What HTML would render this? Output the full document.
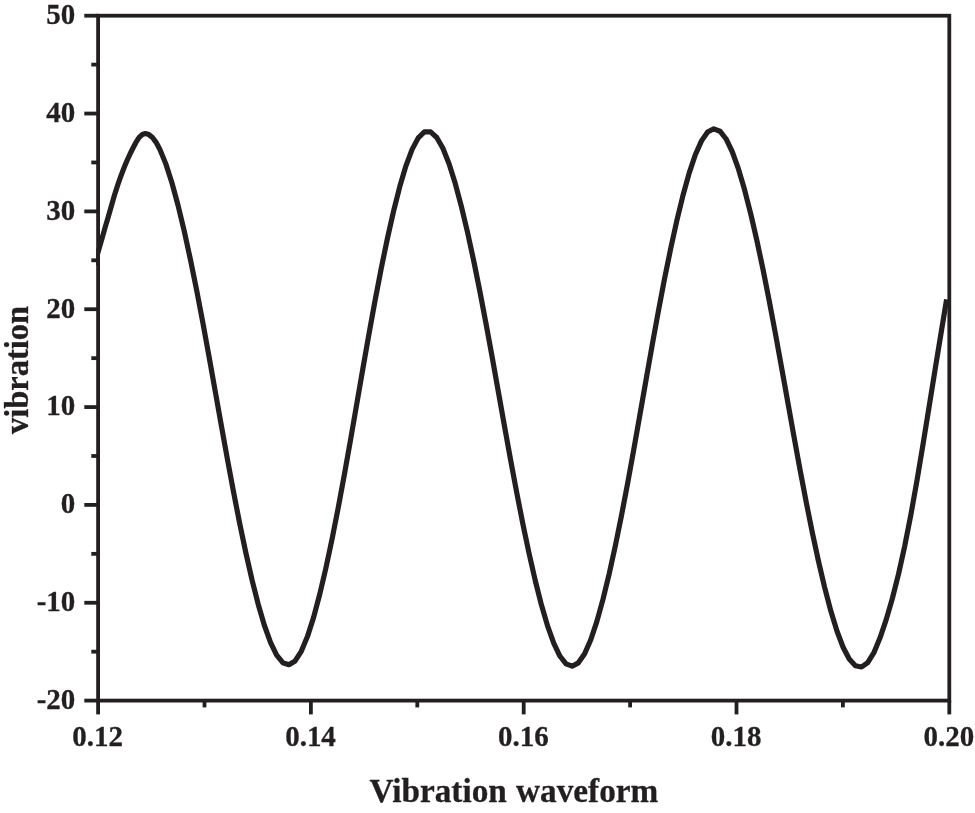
<!DOCTYPE html>
<html lang="en"><head><meta charset="utf-8"><title>Vibration waveform</title>
<style>html,body{margin:0;padding:0;background:#fff;}body{width:975px;height:813px;overflow:hidden;}svg{display:block;}</style>
</head><body>
<svg width="975" height="813" viewBox="0 0 975 813">
<rect width="975" height="813" fill="#fff"/>
<g fill="none" stroke="#231f20" stroke-width="3.8" stroke-linecap="butt">
<rect x="98.1" y="15.7" width="851.20" height="684.90"/>
<line x1="84.30" y1="15.70" x2="98.10" y2="15.70"/>
<line x1="91.30" y1="64.62" x2="98.10" y2="64.62"/>
<line x1="84.30" y1="113.54" x2="98.10" y2="113.54"/>
<line x1="91.30" y1="162.46" x2="98.10" y2="162.46"/>
<line x1="84.30" y1="211.39" x2="98.10" y2="211.39"/>
<line x1="91.30" y1="260.31" x2="98.10" y2="260.31"/>
<line x1="84.30" y1="309.23" x2="98.10" y2="309.23"/>
<line x1="91.30" y1="358.15" x2="98.10" y2="358.15"/>
<line x1="84.30" y1="407.07" x2="98.10" y2="407.07"/>
<line x1="91.30" y1="455.99" x2="98.10" y2="455.99"/>
<line x1="84.30" y1="504.91" x2="98.10" y2="504.91"/>
<line x1="91.30" y1="553.84" x2="98.10" y2="553.84"/>
<line x1="84.30" y1="602.76" x2="98.10" y2="602.76"/>
<line x1="91.30" y1="651.68" x2="98.10" y2="651.68"/>
<line x1="84.30" y1="700.60" x2="98.10" y2="700.60"/>
<line x1="98.10" y1="700.60" x2="98.10" y2="714.40"/>
<line x1="204.50" y1="700.60" x2="204.50" y2="707.40"/>
<line x1="310.90" y1="700.60" x2="310.90" y2="714.40"/>
<line x1="417.30" y1="700.60" x2="417.30" y2="707.40"/>
<line x1="523.70" y1="700.60" x2="523.70" y2="714.40"/>
<line x1="630.10" y1="700.60" x2="630.10" y2="707.40"/>
<line x1="736.50" y1="700.60" x2="736.50" y2="714.40"/>
<line x1="842.90" y1="700.60" x2="842.90" y2="707.40"/>
<line x1="949.30" y1="700.60" x2="949.30" y2="714.40"/>
</g>
<clipPath id="plotclip"><rect x="96.20" y="13.80" width="855.00" height="688.70"/></clipPath>
<path clip-path="url(#plotclip)" d="M94.10 265.20 L98.10 252.00 L102.20 237.68 L105.28 226.88 L108.36 216.49 L111.44 205.80 L114.52 195.07 L117.59 185.43 L120.67 176.67 L123.75 168.50 L126.83 160.99 L129.91 154.24 L132.99 148.02 L136.06 142.20 L139.14 137.44 L142.22 134.52 L145.30 133.60 L148.89 134.62 L152.49 137.55 L156.08 142.34 L159.67 148.88 L165.83 163.87 L171.98 183.04 L178.14 205.75 L184.30 231.44 L190.45 259.67 L196.61 290.09 L202.77 322.33 L208.93 355.94 L215.08 390.38 L221.24 424.99 L227.40 459.10 L233.55 492.10 L239.71 523.50 L245.87 552.88 L252.03 579.92 L258.18 604.20 L264.34 625.25 L270.50 642.45 L276.65 655.14 L282.81 662.71 L288.97 664.74 L295.12 660.92 L301.28 651.37 L307.44 636.61 L313.60 617.34 L319.75 594.27 L325.91 568.01 L332.07 539.05 L338.22 507.76 L344.38 474.55 L350.54 439.90 L356.69 404.41 L362.85 368.79 L369.01 333.76 L375.16 299.97 L381.32 267.95 L387.48 238.10 L393.64 210.82 L399.79 186.55 L405.95 165.83 L412.11 149.37 L418.26 137.87 L424.42 131.95 L430.58 131.90 L436.74 137.46 L442.89 148.26 L449.05 163.76 L455.21 183.33 L461.36 206.33 L467.52 232.23 L473.68 260.61 L479.83 291.12 L485.99 323.41 L492.15 357.03 L498.30 391.43 L504.46 425.96 L510.62 459.98 L516.78 492.89 L522.93 524.19 L529.09 553.51 L535.25 580.50 L541.40 604.78 L547.56 625.86 L553.72 643.16 L559.88 656.01 L566.03 663.83 L572.19 666.18 L578.35 662.85 L584.50 653.96 L590.66 639.99 L596.82 621.58 L602.97 599.41 L609.13 574.07 L615.29 546.04 L621.45 515.71 L627.60 483.42 L633.76 449.61 L639.92 414.81 L646.07 379.68 L652.23 344.90 L658.39 311.10 L664.54 278.84 L670.70 248.53 L676.86 220.54 L683.01 195.25 L689.17 173.13 L695.33 154.78 L701.49 140.87 L707.64 132.06 L713.80 128.81 L719.96 131.21 L726.11 138.99 L732.27 151.75 L738.43 168.89 L744.59 189.78 L750.74 213.84 L756.90 240.59 L763.06 269.66 L769.21 300.71 L775.37 333.37 L781.53 367.17 L787.68 401.55 L793.84 435.85 L800.00 469.47 L806.15 501.83 L812.31 532.50 L818.47 561.12 L824.63 587.35 L830.78 610.80 L836.94 630.97 L843.10 647.26 L849.25 659.03 L855.41 665.73 L861.57 666.99 L867.73 662.57 L873.88 652.68 L880.04 637.80 L886.20 619.64 L892.35 598.51 L898.51 574.14 L904.67 546.36 L910.82 515.08 L916.98 480.47 L923.14 443.57 L929.30 405.48 L935.45 367.35 L941.61 329.71 L946.60 299.30" fill="none" stroke="#231f20" stroke-width="5.2" stroke-linejoin="round" stroke-linecap="butt"/>
<g fill="#231f20" stroke="#231f20" stroke-width="0.3" stroke-linejoin="round" font-family="'Liberation Serif', 'Times New Roman', serif" font-weight="700">
<g font-size="29" text-anchor="end">
<text transform="translate(75.3 24.00) scale(1 1.045)">50</text>
<text transform="translate(75.3 121.84) scale(1 1.045)">40</text>
<text transform="translate(75.3 219.69) scale(1 1.045)">30</text>
<text transform="translate(75.3 317.53) scale(1 1.045)">20</text>
<text transform="translate(75.3 415.37) scale(1 1.045)">10</text>
<text transform="translate(75.3 513.21) scale(1 1.045)">0</text>
<text transform="translate(75.3 611.06) scale(1 1.045)">-10</text>
<text transform="translate(75.3 708.90) scale(1 1.045)">-20</text>
</g>
<g font-size="29" text-anchor="middle">
<text transform="translate(97.70 746.3) scale(1 1.045)">0.12</text>
<text transform="translate(310.50 746.3) scale(1 1.045)">0.14</text>
<text transform="translate(523.30 746.3) scale(1 1.045)">0.16</text>
<text transform="translate(736.10 746.3) scale(1 1.045)">0.18</text>
<text transform="translate(948.90 746.3) scale(1 1.045)">0.20</text>
</g>
<text x="513.85" y="802.4" font-size="33.25" word-spacing="1" text-anchor="middle">Vibration waveform</text>
<text transform="translate(28.2 370) rotate(-90) scale(1 1.06)" font-size="32.5" text-anchor="middle">vibration</text>
</g>
</svg>
</body></html>
